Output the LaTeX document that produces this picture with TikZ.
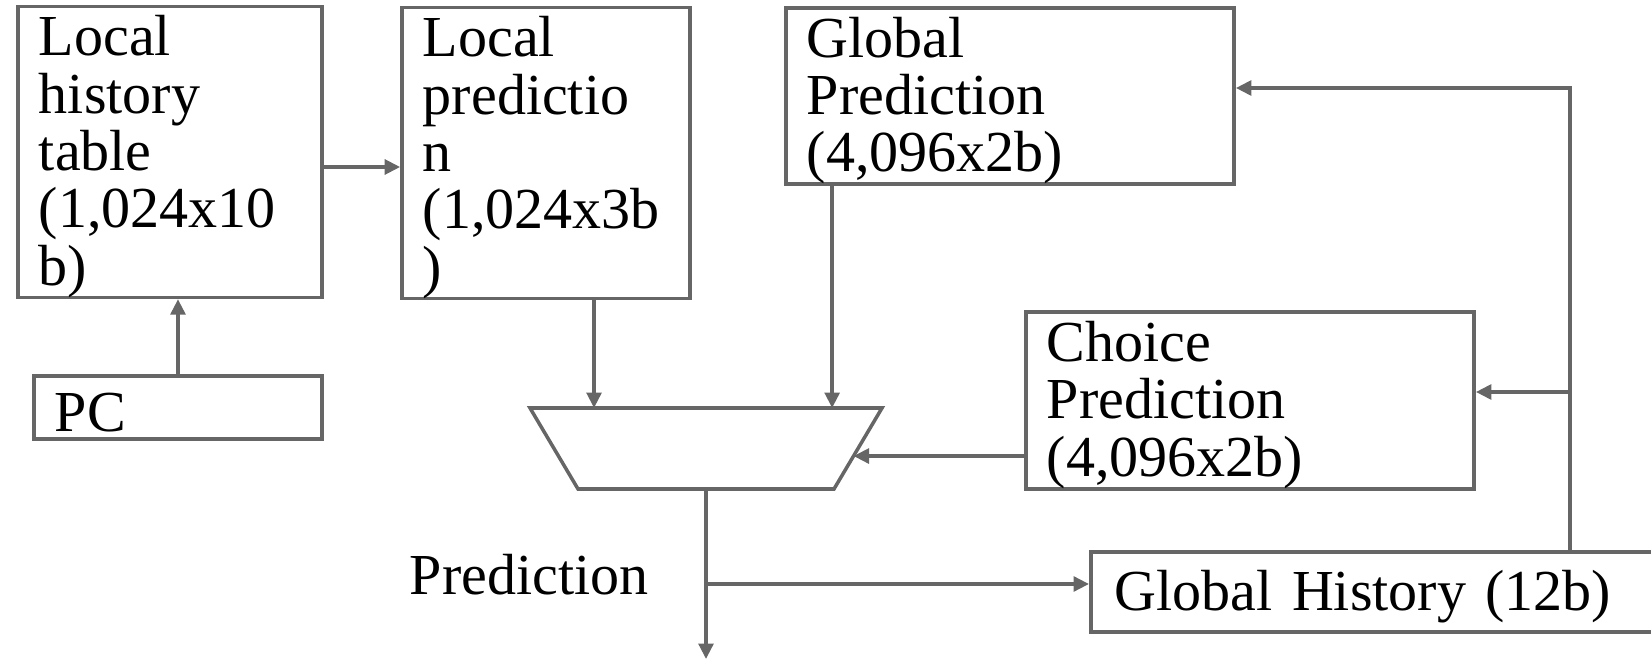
\documentclass[tikz,border=0pt]{standalone}
\usepackage{fontspec}
\setmainfont{Liberation Serif}
\usepackage{tikz}
\usetikzlibrary{arrows.meta, calc}
\usetikzlibrary{positioning}
\definecolor{linegray}{RGB}{102,102,102}

\begin{document}
\begin{tikzpicture}[x=0.01cm, y=-0.01cm,
    box/.style={draw=linegray, line width=1pt, rectangle, inner xsep=0.21cm, inner ysep=0pt, align=left, font=\fontsize{16.5pt}{16.3pt}\selectfont, text height=14pt},
    arr/.style={draw=linegray, line width=1pt, -{Triangle[length=4.4pt,width=4.2pt]}}]
            \useasboundingbox (0,0) rectangle (1651,661);
            \node[box, text width=2.62cm, minimum height=2.88cm] (lht) at (170,152) {Local\\history\\table\\(1,024x10\\b)}; %局所履歴表
            \node[box, text width=2.46cm, minimum height=2.90cm] (lp) at (546,153) {Local\\predictio\\n\\(1,024x3b\\)}; %局所予測
            \node[box, text width=4.06cm, minimum height=1.76cm] (gp) at (1010,96) {Global\\Prediction\\(4,096x2b)}; %大域予測
            \node[box, text width=4.06cm, minimum height=1.77cm] (choice) at (1250,400.5) {Choice\\Prediction\\(4,096x2b)}; %選択予測
            \node[box, text width=2.46cm, minimum height=0.63cm] (pc) at (178,407.5) {PC}; %PC
            \node[box, anchor=west, inner xsep=0.24cm, text width=5.30cm, minimum height=0.80cm] (gh) at (1089,592) {Global History (12b)}; %大域履歴
            \node[font=\fontsize{16.5pt}{16.3pt}\selectfont, anchor=base] (predlbl) at (529,595) {Prediction};
            % 選択器 (台形)
            \coordinate (mtl) at (530,408);
            \coordinate (mtr) at (882,408);
            \coordinate (mbr) at (834,489);
            \coordinate (mbl) at (578,489);
            \draw[linegray, line width=1pt] (mtl) -- (mtr) -- (mbr) -- (mbl) -- cycle;
            \coordinate (mhit) at ($(mtr)!0.593!(mbr)$);
            \coordinate (mout) at ($(mbl)!0.5!(mbr)$);
            \coordinate (out) at (707,659);
            \coordinate (br) at (707,584);
            \coordinate (tap) at (1570,392);
            \draw[arr] ([yshift=-0.15cm]lht.east) -- ([yshift=-0.15cm]lht.east -| lp.west);
            \draw[arr] (pc.north) -- (pc.north |- lht.south);
            \draw[arr] ([xshift=0.48cm]lp.south) -- ([xshift=0.48cm]lp.south |- mtl);
            \draw[arr] ([xshift=0.48cm]gp.south west) -- ([xshift=0.48cm]gp.south west |- mtl);
            \draw[arr] (choice.west |- mhit) -- (mhit);
            \draw[arr] (mout) -- (mout |- out);
            \draw[arr] (br) -- (br -| gh.west);
            \draw[arr] (tap |- gh.north) |- ([yshift=0.08cm]gp.east); %帰還
            \draw[arr] (tap) -- (tap -| choice.east);
        \end{tikzpicture}
\end{document}
